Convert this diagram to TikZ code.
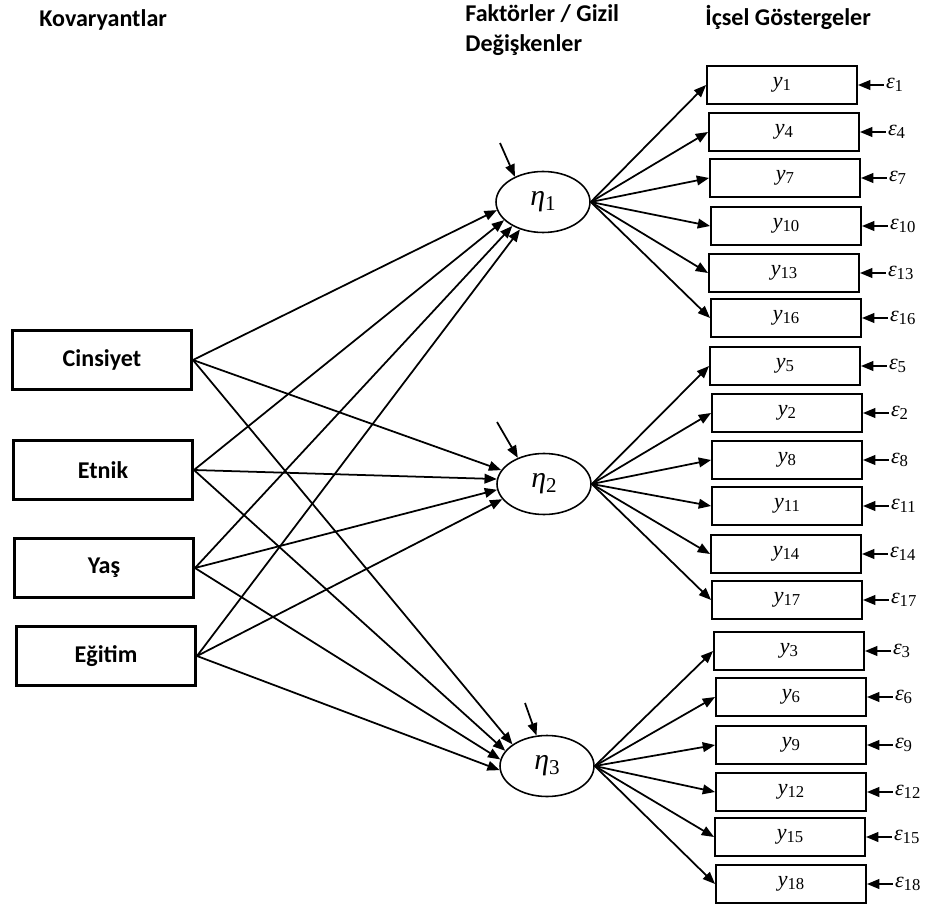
\documentclass[tikz,border=0pt]{standalone}
\usepackage[no-math]{fontspec}
\setmainfont{Carlito}
\newfontfamily\tms{Liberation Serif}
\usetikzlibrary{shapes.geometric,arrows.meta,positioning}
% variable names: italic letter with an upright subscript
\newcommand{\varlab}[2]{{\tms\itshape #1}\raisebox{-0.3ex}{\tms\fontsize{9.5}{10}\selectfont #2}}
\newcommand{\latlab}[2]{{\tms\itshape #1}\raisebox{-0.35ex}{\tms\fontsize{12}{13}\selectfont #2}}
\begin{document}
\begin{tikzpicture}[x=0.02cm,y=-0.02cm,
  every node/.style={inner sep=0pt},
  covbox/.style={draw,line width=1.7pt,minimum width=3.58cm,minimum height=1.18cm,
    font=\fontsize{13.7}{16}\selectfont\bfseries},
  indbox/.style={draw,line width=1.1pt,minimum width=3.0cm,minimum height=0.76cm,
    font=\fontsize{12.5}{14}\selectfont},
  latent/.style={draw,ellipse,line width=0.9pt,minimum width=1.88cm,minimum height=1.22cm,
    font=\fontsize{17}{19}\selectfont},
  errlab/.style={font=\fontsize{12.5}{14}\selectfont,inner sep=1pt,anchor=west},
  heading/.style={font=\fontsize{13.7}{16}\selectfont\bfseries,anchor=west},
  link/.style={line width=1pt,-{Triangle[length=7pt,width=5.5pt]}}]
\useasboundingbox (0,0) rectangle (925,908);

% column headings
\node[heading] (hcov) at (39,20) {Kovaryantlar};
\node[heading] (hfac1) at (465,14) {Faktörler / Gizil};
\node[heading] (hfac2) at (465,45) {Değişkenler};
\node[heading] (hind) at (705,17) {İçsel Göstergeler};

% covariates
\node[covbox] (cins) at (102,360) {Cinsiyet};
\node[covbox] (etn)  at (103,470) {Etnik};
\node[covbox] (yas)  at (104,568) {Yaş};
\node[covbox] (egt)  at (106,656) {Eğitim};

% latent factors
\node[latent] (eta1) at (543,202) {\latlab{η}{1}};
\node[latent] (eta2) at (544,484) {\latlab{η}{2}};
\node[latent] (eta3) at (547,766) {\latlab{η}{3}};

% disturbances
\coordinate (d1) at (500,143);
\coordinate (d2) at (497,422);
\coordinate (d3) at (525,703);
\draw[link] (d1) -- (eta1.138);
\draw[link] (d2) -- (eta2.135);
\draw[link] (d3) -- (eta3.109);

% covariate effects
\draw[link] (cins.east) -- (eta1.190);
\draw[link] (etn.east)  -- (eta1.205);
\draw[link] (yas.east)  -- (eta1.218);
\draw[link] (egt.east)  -- (eta1.230);

\draw[link] (cins.east) -- (eta2.162);
\draw[link] (etn.east)  -- (eta2.174);
\draw[link] (yas.east)  -- (eta2.187);
\draw[link] (egt.east)  -- (eta2.200);

\draw[link] (cins.east) -- (eta3.148);
\draw[link] (etn.east)  -- (eta3.160);
\draw[link] (yas.east)  -- (eta3.172);
\draw[link] (egt.east)  -- (eta3.185);

% indicators with their error terms
\foreach \n/\x/\y in {1/782/85, 4/784/132, 7/785/178, 10/786/226, 13/784/273, 16/786/318,
                      5/785/366, 2/787/413, 8/787/460, 11/787/506, 14/786/554, 17/787/600,
                      3/789/651, 6/791/697, 9/791/745, 12/791/792, 15/790/837, 18/791/884}{
  \node[indbox] (ind\n) at (\x,\y) {\varlab{y}{\n}};
  \node[errlab, right=0.52cm of ind\n] (err\n) {\varlab{ε}{\n}};
  \draw[link] (err\n) -- (ind\n);
}

% loadings
\foreach \n in {1,4,7,10,13,16} \draw[link] (eta1.east) -- (ind\n.west);
\foreach \n in {5,2,8,11,14,17} \draw[link] (eta2.east) -- (ind\n.west);
\foreach \n in {3,6,9,12,15,18} \draw[link] (eta3.east) -- (ind\n.west);
\end{tikzpicture}
\end{document}
